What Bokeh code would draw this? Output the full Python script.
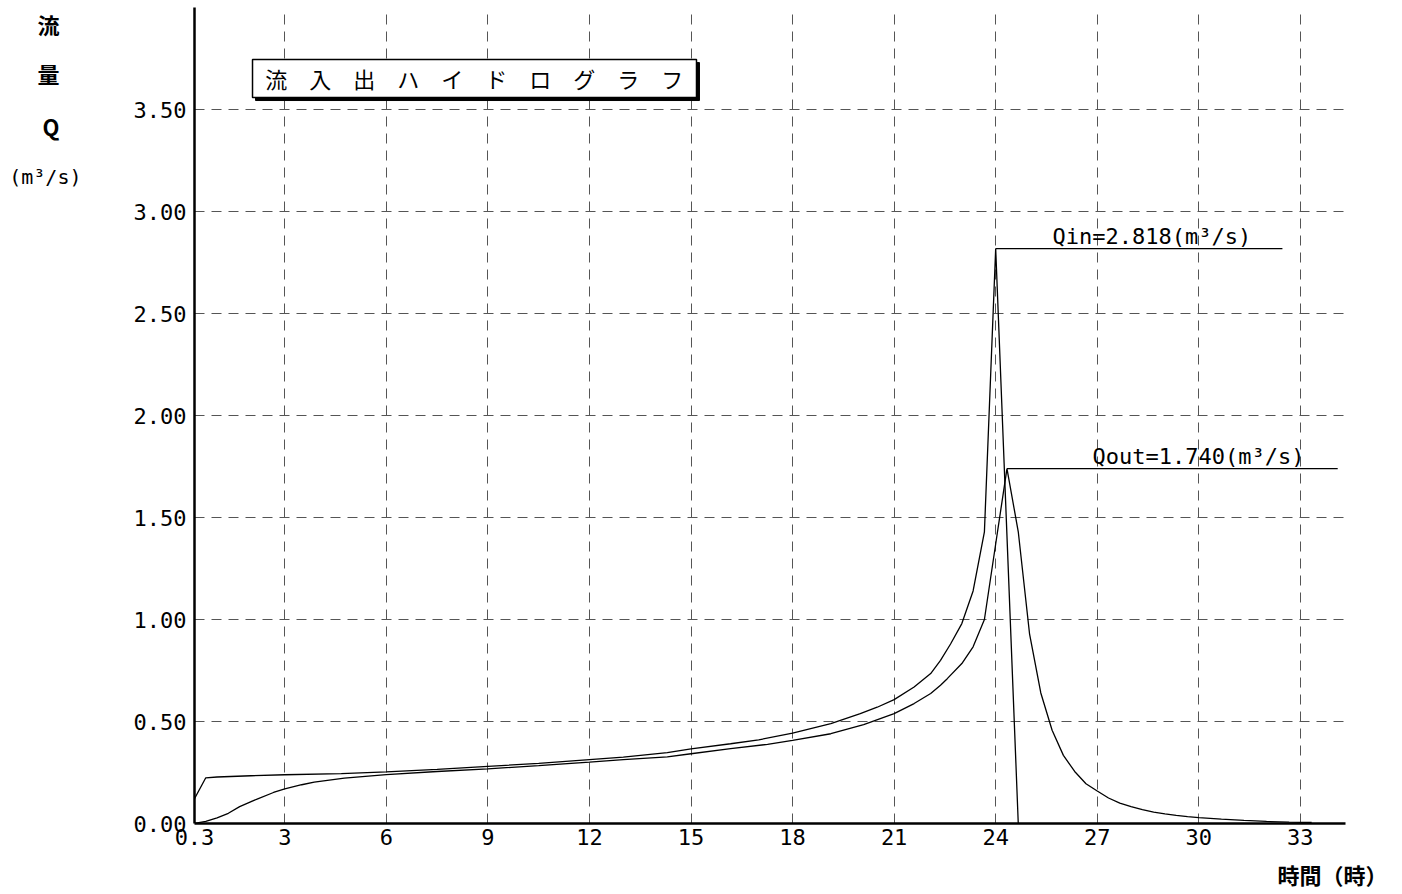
from bokeh.plotting import figure
from bokeh.models import (Range1d, FixedTicker, NumeralTickFormatter, Label,
                          BoxAnnotation, LinearAxis)
from bokeh.embed import file_html
from bokeh.resources import INLINE

# ---------------- data ----------------
# time axis: 20-minute start, hours
X_START = 0.3333
X_END = 34.3333
x_ticks = [X_START, 3, 6, 9, 12, 15, 18, 21, 24, 27, 30, 33]
x_tick_labels = {X_START: "0.3"}
y_ticks = [0.0, 0.5, 1.0, 1.5, 2.0, 2.5, 3.0, 3.5]

# inflow hydrograph Qin (m3/s)
t_in = [0.3333, 0.6667, 1.0, 2.0, 3.0, 4.67, 6.0, 7.5, 9.0, 10.5, 12.0, 13.0,
        14.3, 15.0, 16.17, 17.0, 18.0, 19.13, 20.0, 20.5, 21.0, 21.59, 22.08,
        22.37, 22.667, 23.0, 23.333, 23.667, 24.0, 24.333, 24.667]
q_in = [0.121, 0.224, 0.228, 0.234, 0.239, 0.244, 0.253, 0.265, 0.280, 0.295,
        0.313, 0.325, 0.347, 0.366, 0.391, 0.410, 0.443, 0.490, 0.539, 0.570,
        0.607, 0.669, 0.735, 0.800, 0.880, 0.980, 1.140, 1.430, 2.818, 1.410,
        0.0]

# outflow hydrograph Qout (m3/s)
t_out = [0.3333, 0.6667, 1.0, 1.333, 1.667, 2.2, 2.667, 3.0, 3.5, 3.87, 4.76,
         6.0, 7.5, 9.0, 10.5, 12.0, 13.0, 14.3, 15.0, 16.17, 17.26, 18.0,
         19.13, 20.1, 21.0, 21.59, 22.08, 22.37, 22.57, 23.0, 23.333, 23.667,
         24.0, 24.333, 24.667, 25.0, 25.333, 25.667, 26.0, 26.333, 26.667,
         27.0, 27.333, 27.667, 28.0, 28.333, 28.667, 29.0, 29.333, 29.667,
         30.0, 30.667, 31.333, 32.0, 32.667, 33.333]
q_out = [0.0, 0.010, 0.028, 0.050, 0.083, 0.121, 0.152, 0.170, 0.190, 0.203,
         0.222, 0.240, 0.255, 0.268, 0.284, 0.301, 0.313, 0.327, 0.342, 0.367,
         0.388, 0.407, 0.440, 0.485, 0.539, 0.588, 0.637, 0.678, 0.710, 0.784,
         0.866, 1.000, 1.370, 1.740, 1.430, 0.930, 0.640, 0.457, 0.334, 0.255,
         0.195, 0.159, 0.125, 0.100, 0.083, 0.068, 0.056, 0.047, 0.040, 0.034,
         0.029, 0.021, 0.015, 0.010, 0.007, 0.005]

peak_in_t, peak_in_q = 24.0, 2.818
peak_out_t, peak_out_q = 24.333, 1.740
label_in = "Qin=2.818(m³/s)"
label_out = "Qout=1.740(m³/s)"
title_text = "流　入　出　ハ　イ　ド　ロ　グ　ラ　フ"
x_label = "時間（時）"
y_label_parts = ["流", "量", "Q"]
y_unit = "(m³/s)"

# ---------------- figure ----------------
MONO = "DejaVu Sans Mono"
JP = "Noto Sans CJK JP"

p = figure(width=1390, height=894, output_backend="svg", toolbar_location=None,
           title=None,
           x_range=Range1d(X_START, X_END), y_range=Range1d(0, 4.0),
           min_border_left=194, min_border_right=45, min_border_top=7,
           min_border_bottom=71)
p.outline_line_color = None
p.background_fill_color = "white"
p.border_fill_color = "white"

# axes
for ax in (p.xaxis[0], p.yaxis[0]):
    ax.axis_line_color = "black"
    ax.axis_line_width = 2.5
    ax.major_tick_line_color = None
    ax.minor_tick_line_color = None
    ax.major_tick_out = 0
    ax.major_tick_in = 0
    ax.minor_tick_out = 0
    ax.minor_tick_in = 0
    ax.major_label_text_font = MONO
    ax.major_label_text_font_size = "22px"
    ax.major_label_text_color = "black"

p.xaxis[0].ticker = FixedTicker(ticks=x_ticks)
p.xaxis[0].major_label_overrides = x_tick_labels
p.xaxis[0].major_label_standoff = 5
p.yaxis[0].ticker = FixedTicker(ticks=y_ticks)
p.yaxis[0].formatter = NumeralTickFormatter(format="0.00")
p.yaxis[0].major_label_standoff = 8


def caption_axis(ticks, labels, font, size, style, standoff, side):
    ax = LinearAxis(ticker=FixedTicker(ticks=ticks),
                    major_label_overrides=dict(zip(ticks, labels)),
                    axis_line_color=None, major_tick_line_color=None,
                    minor_tick_line_color=None, major_tick_out=0,
                    major_tick_in=0, minor_tick_out=0, minor_tick_in=0,
                    major_label_text_font=font,
                    major_label_text_font_size=size,
                    major_label_text_font_style=style,
                    major_label_text_color="black",
                    major_label_standoff=standoff)
    p.add_layout(ax, side)
    return ax


# y caption: stacked 流 / 量 / Q / (m³/s) at the top left
caption_axis([3.92, 3.68, 3.42], y_label_parts, JP, "22px", "bold", 71, "left")
caption_axis([3.17], [y_unit], MONO, "20px", "normal", -47, "left")
# x caption at the right end below the axis
caption_axis([33.95], [x_label], JP, "22px", "bold", 10, "below")

# grid
p.xgrid[0].ticker = FixedTicker(ticks=x_ticks[1:])
p.ygrid[0].ticker = FixedTicker(ticks=y_ticks[1:])
for g in (p.xgrid[0], p.ygrid[0]):
    g.grid_line_color = "#555555"
    g.grid_line_dash = "10 7"
    g.grid_line_width = 1

# hydrographs
p.line(t_in, q_in, line_color="black", line_width=1.3)
p.line(t_out, q_out, line_color="black", line_width=1.3)

# peak leader lines and labels
p.segment(x0=[peak_in_t, peak_out_t], y0=[peak_in_q, peak_out_q],
          x1=[peak_in_t + 8.47, peak_out_t + 9.77], y1=[peak_in_q, peak_out_q],
          line_color="black", line_width=1.2)
p.add_layout(Label(x=peak_in_t + 1.68, y=peak_in_q, text=label_in,
                   text_font=MONO, text_font_size="22px", text_color="black",
                   text_align="left", text_baseline="alphabetic", y_offset=12))
p.add_layout(Label(x=peak_out_t + 2.53, y=peak_out_q, text=label_out,
                   text_font=MONO, text_font_size="22px", text_color="black",
                   text_align="left", text_baseline="alphabetic", y_offset=12))

# title box with shadow
p.add_layout(BoxAnnotation(left=2.136, right=15.25, top=3.730, bottom=3.544,
                           fill_color="black", fill_alpha=1.0,
                           line_color="black", line_alpha=1.0))
p.add_layout(BoxAnnotation(left=2.047, right=15.162, top=3.745, bottom=3.559,
                           fill_color="white", fill_alpha=1.0,
                           line_color="black", line_alpha=1.0, line_width=1.5))
p.add_layout(Label(x=8.60, y=3.652, text=title_text, text_font=JP,
                   text_font_size="22px", text_color="black",
                   text_align="center", text_baseline="middle"))

open("out.html", "w").write(file_html(p, INLINE))
